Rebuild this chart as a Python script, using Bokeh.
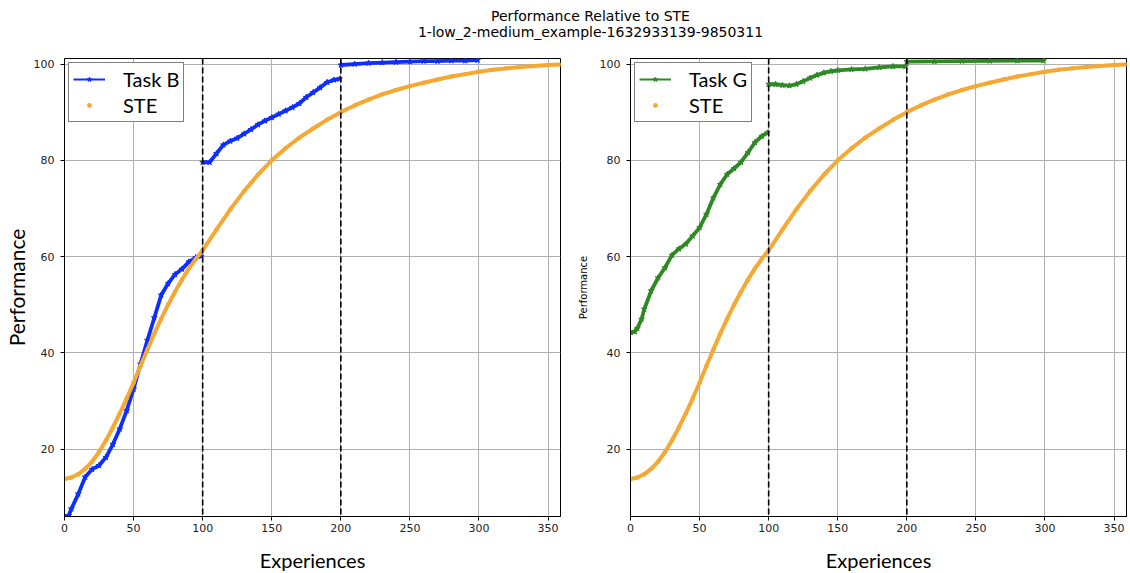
from bokeh.plotting import figure
from bokeh.layouts import column, row
from bokeh.models import Range1d, FixedTicker, Span, Legend, LegendItem, Label
from bokeh.embed import file_html
from bokeh.resources import INLINE

TITLE_1 = "Performance Relative to STE"
TITLE_2 = "1-low_2-medium_example-1632933139-9850311"
X_LABEL = "Experiences"
Y_LABEL = "Performance"
X_TICKS = [0, 50, 100, 150, 200, 250, 300, 350]
Y_TICKS = [20, 40, 60, 80, 100]
TASK_SWITCHES = [100, 200]

# STE curve (same in both panels)
ste_x = [0, 5, 10, 15, 20, 25, 30, 35, 40, 45, 50, 55, 60, 65, 70, 75, 80, 85, 90, 95,
         100, 110, 120, 130, 140, 150, 160, 170, 180, 190, 200, 210, 220, 230, 240, 250,
         260, 270, 280, 290, 300, 310, 320, 330, 340, 350, 360]
ste_y = [13.8, 14.1, 14.8, 15.9, 17.4, 19.4, 21.8, 24.5, 27.4, 30.5, 33.8, 37.3, 40.7, 44.0,
         47.1, 50.0, 52.7, 55.2, 57.5, 59.5, 61.3, 65.6, 69.8, 73.6, 77.0, 80.0, 82.5, 84.7,
         86.6, 88.4, 90.0, 91.4, 92.6, 93.7, 94.6, 95.4, 96.1, 96.8, 97.4, 97.9, 98.4, 98.8,
         99.1, 99.4, 99.6, 99.8, 99.9]

# Task B, three segments
task_b_x1 = [0, 3, 5, 10, 15, 20, 25, 30, 35, 40, 45, 50, 55, 60, 65, 70, 75, 80, 85, 90, 95, 99]
task_b_y1 = [6.1, 6.2, 7.6, 10.7, 14.2, 15.8, 16.6, 18.3, 21.0, 24.2, 28.0, 32.5, 37.7, 42.6,
             47.3, 52.0, 54.4, 56.3, 57.4, 58.9, 59.8, 60.1]
task_b_x2 = [100, 105, 110, 115, 120, 125, 130, 135, 140, 145, 150, 155, 160, 165, 170, 175,
             180, 185, 190, 195, 199]
task_b_y2 = [79.6, 79.6, 81.4, 83.2, 84.0, 84.6, 85.5, 86.4, 87.4, 88.2, 88.9, 89.6, 90.3,
             91.0, 91.8, 93.1, 94.1, 95.1, 96.2, 96.7, 96.9]
task_b_x3 = [200, 210, 220, 230, 240, 250, 260, 270, 280, 290, 299]
task_b_y3 = [99.8, 100.0, 100.2, 100.3, 100.4, 100.5, 100.6, 100.6, 100.7, 100.7, 100.8]

# Task G, three segments
task_g_x1 = [0, 3, 5, 8, 10, 15, 20, 25, 30, 35, 40, 45, 50, 55, 60, 65, 70, 75, 80, 85, 90, 95, 99]
task_g_y1 = [44.2, 44.4, 45.1, 47.0, 49.1, 52.9, 55.6, 57.7, 60.3, 61.6, 62.6, 64.3, 66.0,
             68.8, 72.2, 75.0, 77.1, 78.3, 79.6, 81.6, 83.7, 85.0, 85.7]
task_g_x2 = [100, 105, 110, 115, 120, 125, 130, 135, 140, 145, 150, 160, 170, 180, 190, 199]
task_g_y2 = [95.8, 95.8, 95.6, 95.5, 95.8, 96.4, 97.1, 97.7, 98.2, 98.5, 98.7, 98.9, 99.0,
             99.3, 99.5, 99.5]
task_g_x3 = [200, 220, 240, 260, 280, 299]
task_g_y3 = [100.5, 100.55, 100.6, 100.65, 100.7, 100.7]

STE_COLOR = "#f5a833"
B_COLOR = "#0f2fff"
G_COLOR = "#2e8a22"


def make_panel(task_name, color, xs, ys, ylabel_font, ylabel_size, ylabel_standoff,
               border_left, border_right):
    p = figure(frame_width=496, frame_height=458, output_backend="svg",
               toolbar_location=None, x_range=Range1d(0, 359), y_range=Range1d(6.0, 101.15),
               min_border_left=border_left, min_border_right=border_right,
               min_border_top=8, min_border_bottom=55)
    p.background_fill_color = "white"
    p.border_fill_color = "white"
    p.outline_line_color = "black"
    p.outline_line_width = 1

    p.xaxis.ticker = FixedTicker(ticks=X_TICKS)
    p.yaxis.ticker = FixedTicker(ticks=Y_TICKS)
    p.xgrid.ticker = FixedTicker(ticks=X_TICKS)
    p.ygrid.ticker = FixedTicker(ticks=Y_TICKS)
    p.grid.grid_line_color = "#b0b0b0"
    p.grid.grid_line_width = 1

    for ax in (p.xaxis, p.yaxis):
        ax.axis_line_color = "black"
        ax.major_tick_line_color = "black"
        ax.major_tick_out = 4
        ax.major_tick_in = 0
        ax.minor_tick_out = 0
        ax.minor_tick_in = 0
        ax.major_label_text_font = "DejaVu Sans"
        ax.major_label_text_font_size = "11px"
        ax.major_label_text_color = "#222222"
        ax.axis_label_text_font_style = "normal"
        ax.axis_label_text_color = "black"
    p.xaxis.major_label_standoff = 3
    p.yaxis.major_label_standoff = 6

    p.xaxis.axis_label = X_LABEL
    p.xaxis.axis_label_text_font = "Lato"
    p.xaxis.axis_label_text_font_size = "20px"
    p.xaxis.axis_label_standoff = 13
    p.yaxis.axis_label = Y_LABEL
    p.yaxis.axis_label_text_font = ylabel_font
    p.yaxis.axis_label_text_font_size = ylabel_size
    p.yaxis.axis_label_standoff = ylabel_standoff

    # task curve: thick band, thin legend line, star markers
    p.multi_line(xs=xs, ys=ys, line_color=color, line_width=3.8)
    thin = p.multi_line(xs=xs, ys=ys, line_color=color, line_width=1.8)
    all_x = [v for seg in xs for v in seg]
    all_y = [v for seg in ys for v in seg]
    stars = p.scatter(all_x, all_y, marker="star", size=6, fill_color=color,
                      line_color=color)

    # STE
    p.line(ste_x, ste_y, line_color=STE_COLOR, line_width=4)
    ste_dots = p.scatter(ste_x, ste_y, marker="circle", size=4.5, fill_color=STE_COLOR,
                         line_color=None)

    for v in TASK_SWITCHES:
        p.add_layout(Span(location=v, dimension="height", line_color="black",
                          line_width=1.6, line_dash="6 3"))

    legend = Legend(items=[LegendItem(label=task_name, renderers=[thin, stars]),
                           LegendItem(label="STE", renderers=[ste_dots])],
                    location="top_left")
    legend.margin = 4
    legend.padding = 4
    legend.spacing = 2
    legend.glyph_width = 32
    legend.glyph_height = 12
    legend.label_height = 24
    legend.label_standoff = 18
    legend.label_text_font = "Lato"
    legend.label_text_font_size = "20px"
    legend.label_text_color = "black"
    legend.border_line_color = "black"
    legend.border_line_width = 1.2
    legend.background_fill_alpha = 1
    p.add_layout(legend)
    return p


p1 = make_panel("Task B", B_COLOR, [task_b_x1, task_b_x2, task_b_x3],
                [task_b_y1, task_b_y2, task_b_y3], "Lato", "21px", 2, 57, 3)
p2 = make_panel("Task G", G_COLOR, [task_g_x1, task_g_x2, task_g_x3],
                [task_g_y1, task_g_y2, task_g_y3], "DejaVu Sans", "10px", 8, 67, 2)

p0 = figure(width=1121, height=50, output_backend="svg", toolbar_location=None,
            x_range=Range1d(0, 1), y_range=Range1d(0, 1), x_axis_type=None,
            y_axis_type=None, min_border=0)
p0.outline_line_color = None
p0.grid.visible = False
for txt, yy in ((TITLE_1, 35), (TITLE_2, 19)):
    p0.add_layout(Label(x=590, y=yy, x_units="screen", y_units="screen", text=txt,
                        text_align="center", text_baseline="middle",
                        text_font="DejaVu Sans", text_font_size="14px",
                        text_color="black"))

layout = column(p0, row(p1, p2))
open("out.html", "w").write(file_html(layout, INLINE))
